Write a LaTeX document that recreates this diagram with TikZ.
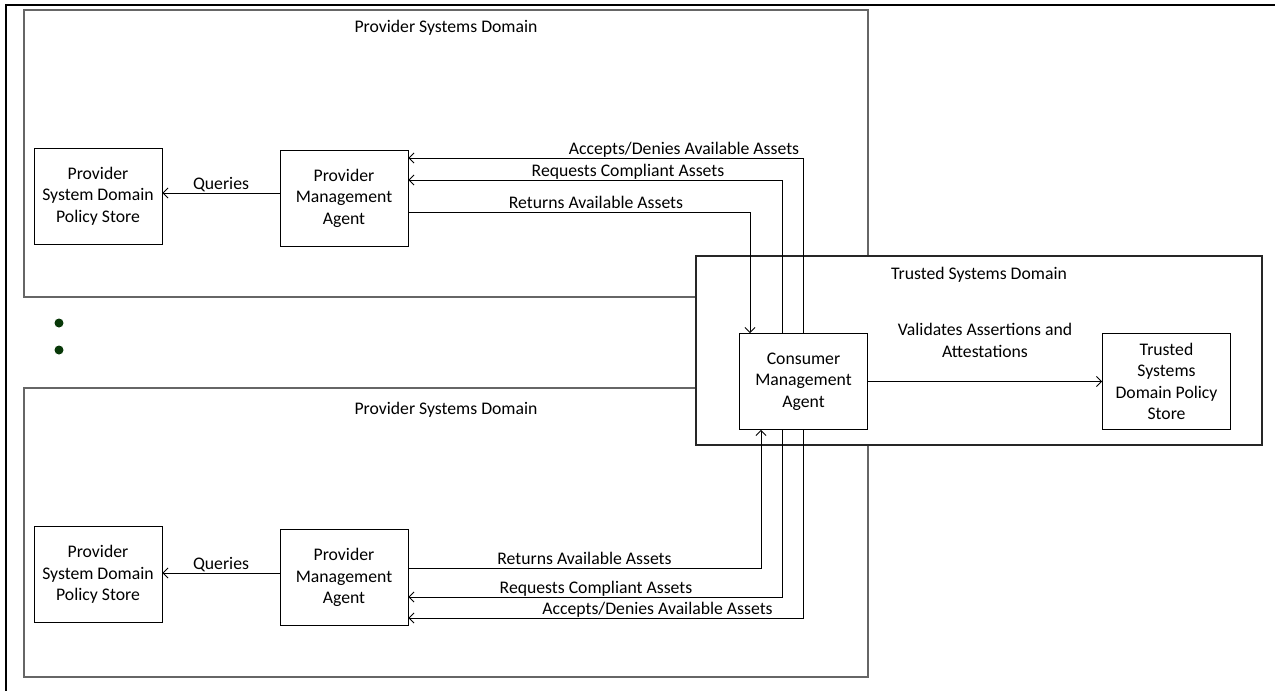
\documentclass[tikz,border=0pt]{standalone}
\usepackage{fontspec}
\setmainfont{Carlito}
\usetikzlibrary{arrows.meta}
\begin{document}
\begin{tikzpicture}[x=1pt,y=-1pt,
  txt/.style={font=\fontsize{17.7}{21.6}\selectfont},
  domainbox/.style={draw=black!60, line width=1.4pt, fill=white},
  trustbox/.style={draw=black!85, line width=1.2pt, fill=white},
  agent/.style={txt, draw=black, line width=0.9pt, minimum width=128pt,
    minimum height=96pt, align=center, inner sep=0pt, fill=white},
  flow/.style={draw=black, line width=0.9pt,
    -{Straight Barb[length=5pt,width=10pt]}},
  lbl/.style={txt, anchor=base, inner sep=0pt},
  dot/.style={circle, fill={rgb,255:red,8;green,56;blue,8}, inner sep=0pt,
    minimum size=9pt},
]
\useasboundingbox (0,0) rectangle (1275,691);

% page frame (top and left rule)
\draw[line width=2.8pt] (1275,5) -- (6,5) -- (6,691);

% domains
\draw[domainbox] (24,10) rectangle (868,297);
\node[lbl] (domT) at (446,32) {Provider Systems Domain};
\draw[domainbox] (24,388) rectangle (868,677);
\node[lbl] (domB) at (446,414) {Provider Systems Domain};
\draw[trustbox] (696,256) rectangle (1262,445);
\node[lbl] (domC) at (979,279) {Trusted Systems Domain};

% ellipsis between provider domains
\node[dot] (d1) at (59,323) {};
\node[dot] (d2) at (59,350) {};

% agents and stores
\node[agent] (storeT) at (98,196) {Provider\\System Domain\\Policy Store};
\node[agent] (pmaT) at (344,198) {Provider\\Management\\Agent};
\node[agent] (storeB) at (98,574.5) {Provider\\System Domain\\Policy Store};
\node[agent] (pmaB) at (344,577.5) {Provider\\Management\\Agent};
\node[agent] (cma) at (803.5,381.5) {Consumer\\Management\\Agent};
\node[agent] (tstore) at (1166.5,381.5) {Trusted\\Systems\\Domain Policy\\Store};

% routing columns and rows
\coordinate (colRT) at (750,0);
\coordinate (colRB) at (761,0);
\coordinate (colQ) at (782,0);
\coordinate (colA) at (803,0);
\coordinate (rowAT) at (0,158);
\coordinate (rowQT) at (0,180);
\coordinate (rowRT) at (0,212);
\coordinate (rowRB) at (0,568);
\coordinate (rowQB) at (0,597);
\coordinate (rowAB) at (0,618);
\coordinate (rowST) at (0,193);
\coordinate (rowSB) at (0,573);

% queries to the policy stores
\draw[flow] (pmaT.west |- rowST) -- (storeT.east |- rowST);
\node[lbl] (qT) at (221,189.5) {Queries};
\draw[flow] (pmaB.west |- rowSB) -- (storeB.east |- rowSB);
\node[lbl] (qB) at (221,569.5) {Queries};

% upper provider exchange
\draw[flow] (cma.north -| colA) |- (pmaT.east |- rowAT);
\node[lbl] (aT) at (684,154.5) {Accepts/Denies Available Assets};
\draw[flow] (cma.north -| colQ) |- (pmaT.east |- rowQT);
\node[lbl] (rqT) at (628,176.5) {Requests Compliant Assets};
\draw[flow] (pmaT.east |- rowRT) -| (cma.north -| colRT);
\node[lbl] (rtT) at (596,208.5) {Returns Available Assets};

% lower provider exchange
\draw[flow] (pmaB.east |- rowRB) -| (cma.south -| colRB);
\node[lbl] (rtB) at (584.5,564.5) {Returns Available Assets};
\draw[flow] (cma.south -| colQ) |- (pmaB.east |- rowQB);
\node[lbl] (rqB) at (596,593.5) {Requests Compliant Assets};
\draw[flow] (cma.south -| colA) |- (pmaB.east |- rowAB);
\node[lbl] (aB) at (657.5,614.5) {Accepts/Denies Available Assets};

% validation in the trusted domain
\draw[flow] (cma.east) -- (tstore.west);
\node[lbl, align=center] (val) at (985,357) {Validates Assertions and\\Attestations};
\end{tikzpicture}
\end{document}
